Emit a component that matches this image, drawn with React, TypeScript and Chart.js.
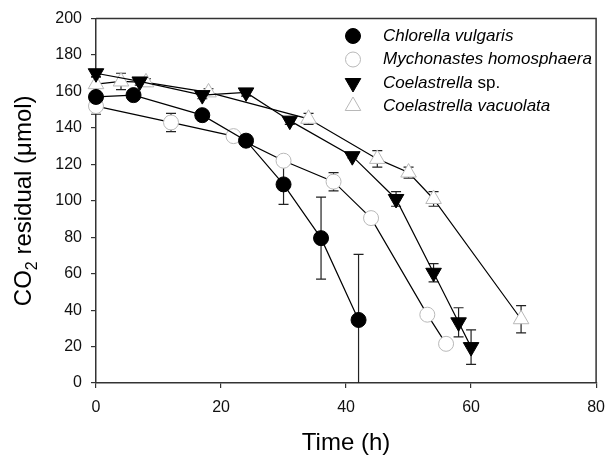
import { useEffect, useRef } from "react";
import { Chart, registerables } from "chart.js";

Chart.register(...registerables);

const FONT = "'Liberation Sans', Arial, Helvetica, sans-serif";

// Time (h) and CO2 residual (µmol), with error-bar half-widths
const chlorellaTime = [0, 6, 17, 24, 30, 36, 42];
const chlorellaCO2 = [157, 158, 147, 133, 109, 79.5, 34.6];
const chlorellaErr = [3, 2, 2, 3, 11, 22.5, 36];

const mychoTime = [0, 12, 22, 30, 38, 44, 53, 56];
const mychoCO2 = [152, 143, 135.5, 122, 110.5, 90.5, 37.5, 21.5];
const mychoErr = [4.5, 5, 1, 1, 5, 1, 1, 1];

const coelSpTime = [0, 7, 17, 24, 31, 41, 48, 54, 58, 60];
const coelSpCO2 = [170, 165.5, 158, 159.5, 144, 124.5, 101, 60.5, 33.3, 19.7];
const coelSpErr = [2, 2, 2, 2, 2, 1, 4, 5, 8, 9.5];

const coelVacTime = [0, 4, 8, 18, 34, 45, 50, 54, 68];
const coelVacCO2 = [164, 165.5, 165, 159.5, 145, 123, 115.5, 101, 35];
const coelVacErr = [4, 4.5, 2, 2, 3, 4.5, 3, 4, 7.5];

const xTicks = [0, 20, 40, 60, 80];
const yTicks = [0, 20, 40, 60, 80, 100, 120, 140, 160, 180, 200];

type Series = {
  italic: string;
  plain: string;
  t: number[];
  v: number[];
  e: number[];
  style: "circle" | "triangle";
  rotation: number;
  fill: string;
  stroke: string;
  radius: number;
};

const series: Series[] = [
  { italic: "Chlorella vulgaris", plain: "", t: chlorellaTime, v: chlorellaCO2, e: chlorellaErr, style: "circle", rotation: 0, fill: "#000", stroke: "#000", radius: 7.5 },
  { italic: "Mychonastes homosphaera", plain: "", t: mychoTime, v: mychoCO2, e: mychoErr, style: "circle", rotation: 0, fill: "#fff", stroke: "#b8b8b8", radius: 7.5 },
  { italic: "Coelastrella", plain: " sp.", t: coelSpTime, v: coelSpCO2, e: coelSpErr, style: "triangle", rotation: 180, fill: "#000", stroke: "#000", radius: 9 },
  { italic: "Coelastrella vacuolata", plain: "", t: coelVacTime, v: coelVacCO2, e: coelVacErr, style: "triangle", rotation: 0, fill: "#fff", stroke: "#b8b8b8", radius: 9 },
];

const PLOT_LEFT = 96;
const PLOT_BOTTOM = 383;
const W = 615;
const H = 462;

function drawMarker(ctx: CanvasRenderingContext2D, s: Series, x: number, y: number) {
  ctx.save();
  ctx.fillStyle = s.fill;
  ctx.strokeStyle = s.stroke;
  ctx.lineWidth = 1;
  ctx.beginPath();
  if (s.style === "circle") {
    ctx.arc(x, y, s.radius, 0, Math.PI * 2);
  } else {
    let rad = (s.rotation * Math.PI) / 180;
    const r = s.radius;
    ctx.moveTo(x + Math.sin(rad) * r, y - Math.cos(rad) * r);
    rad += (2 * Math.PI) / 3;
    ctx.lineTo(x + Math.sin(rad) * r, y - Math.cos(rad) * r);
    rad += (2 * Math.PI) / 3;
    ctx.lineTo(x + Math.sin(rad) * r, y - Math.cos(rad) * r);
    ctx.closePath();
  }
  ctx.fill();
  ctx.stroke();
  ctx.restore();
}

const decorPlugin = {
  id: "decor",
  beforeDatasetsDraw(chart: any) {
    const ctx: CanvasRenderingContext2D = chart.ctx;
    const xs = chart.scales.x;
    const ys = chart.scales.y;
    const area = chart.chartArea;
    ctx.save();
    ctx.strokeStyle = "#222";
    ctx.lineWidth = 1.2;
    series.forEach((s) => {
      s.t.forEach((t, i) => {
        const px = xs.getPixelForValue(t);
        const hi = s.v[i] + s.e[i];
        const lo = s.v[i] - s.e[i];
        const pTop = ys.getPixelForValue(hi);
        const pBot = Math.min(ys.getPixelForValue(Math.max(lo, 0)), area.bottom);
        ctx.beginPath();
        ctx.moveTo(px, pTop);
        ctx.lineTo(px, pBot);
        ctx.moveTo(px - 5, pTop);
        ctx.lineTo(px + 5, pTop);
        if (lo > 0) {
          ctx.moveTo(px - 5, pBot);
          ctx.lineTo(px + 5, pBot);
        }
        ctx.stroke();
      });
    });
    ctx.restore();
  },
  afterDraw(chart: any) {
    const ctx: CanvasRenderingContext2D = chart.ctx;
    const area = chart.chartArea;
    ctx.save();
    // top & right frame
    ctx.strokeStyle = "#333";
    ctx.lineWidth = 1.5;
    ctx.beginPath();
    ctx.moveTo(area.left, area.top);
    ctx.lineTo(area.right, area.top);
    ctx.lineTo(area.right, area.bottom);
    ctx.stroke();

    // x title
    ctx.fillStyle = "#000";
    ctx.font = `24px ${FONT}`;
    ctx.textAlign = "center";
    ctx.textBaseline = "middle";
    ctx.fillText("Time (h)", (area.left + area.right) / 2, 443);

    // y title with subscript
    const cy = (area.top + area.bottom) / 2;
    ctx.translate(23, cy);
    ctx.rotate(-Math.PI / 2);
    const big = `24px ${FONT}`;
    const small = `16px ${FONT}`;
    ctx.font = big;
    const w1 = ctx.measureText("CO").width;
    const w3 = ctx.measureText(" residual (μmol)").width;
    ctx.font = small;
    const w2 = ctx.measureText("2").width;
    let x0 = -(w1 + w2 + w3) / 2;
    ctx.textAlign = "left";
    ctx.textBaseline = "alphabetic";
    ctx.font = big;
    ctx.fillText("CO", x0, 8);
    x0 += w1;
    ctx.font = small;
    ctx.fillText("2", x0, 14);
    x0 += w2;
    ctx.font = big;
    ctx.fillText(" residual (μmol)", x0, 8);
    ctx.setTransform(1, 0, 0, 1, 0, 0);
    ctx.restore();

    // legend
    ctx.save();
    const rows = [36, 59.5, 83, 106];
    series.forEach((s, i) => {
      const y = rows[i];
      drawMarker(ctx, s, 353, y);
      ctx.fillStyle = "#000";
      ctx.textBaseline = "middle";
      ctx.textAlign = "left";
      ctx.font = `italic 17px ${FONT}`;
      ctx.fillText(s.italic, 383, y);
      if (s.plain) {
        const wi = ctx.measureText(s.italic).width;
        ctx.font = `17px ${FONT}`;
        ctx.fillText(s.plain, 383 + wi, y);
      }
    });
    ctx.restore();
  },
};

export default function App() {
  const ref = useRef<HTMLCanvasElement | null>(null);
  useEffect(() => {
    if (!ref.current) return;
    const datasets = series.map((s) => ({
      label: s.italic + s.plain,
      data: s.t.map((t, i) => ({ x: t, y: s.v[i] })),
      showLine: true,
      borderColor: "#000",
      borderWidth: 1.2,
      pointStyle: s.style,
      pointRotation: s.rotation,
      pointRadius: s.radius,
      pointHoverRadius: s.radius,
      pointBackgroundColor: s.fill,
      pointBorderColor: s.stroke,
      pointBorderWidth: 1,
      clip: false as any,
    }));
    const chart = new Chart(ref.current, {
      type: "scatter",
      data: { datasets },
      options: {
        animation: false,
        responsive: false,
        events: [],
        layout: { padding: { top: 15, right: 10, left: 0, bottom: 0 } },
        plugins: { legend: { display: false }, tooltip: { enabled: false } },
        scales: {
          x: {
            type: "linear",
            min: 0,
            max: 80,
            afterBuildTicks: (scale: any) => {
              scale.ticks = xTicks.map((v) => ({ value: v }));
            },
            afterFit: (scale: any) => {
              scale.height = H - PLOT_BOTTOM;
            },
            ticks: { color: "#111", font: { family: FONT, size: 16 }, padding: 10 },
            grid: { drawOnChartArea: false, drawTicks: true, tickLength: 5, color: "#333", lineWidth: 1.2 },
            border: { color: "#333", width: 1.5 },
          },
          y: {
            type: "linear",
            min: 0,
            max: 200,
            afterBuildTicks: (scale: any) => {
              scale.ticks = yTicks.map((v) => ({ value: v }));
            },
            afterFit: (scale: any) => {
              scale.width = PLOT_LEFT;
            },
            ticks: { color: "#111", font: { family: FONT, size: 16 }, padding: 9 },
            grid: { drawOnChartArea: false, drawTicks: true, tickLength: 5, color: "#333", lineWidth: 1.2 },
            border: { color: "#333", width: 1.5 },
          },
        },
      },
      plugins: [decorPlugin],
    });
    return () => chart.destroy();
  }, []);
  return (
    <div style={{ position: "absolute", left: 0, top: 0, width: W, height: H, background: "#fff" }}>
      <canvas ref={ref} width={W} height={H} style={{ width: W, height: H, display: "block" }} />
    </div>
  );
}
